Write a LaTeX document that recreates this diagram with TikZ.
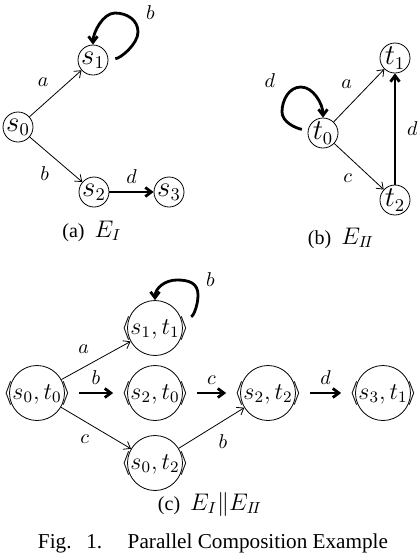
\documentclass[tikz,border=0pt]{standalone}
\usepackage[no-math]{fontspec}
\setmainfont{Liberation Serif}
\usetikzlibrary{arrows.meta,calc}

% pair state: circle of fixed size, text allowed to overflow
\newcommand\tup[2]{\makebox[0pt]{$\langle #1,#2\rangle$}}

\begin{document}
\begin{tikzpicture}[x=0.5pt,y=-0.5pt,
  state/.style={circle, draw, inner sep=0pt, minimum size=15pt, font=\fontsize{13.5}{16}\selectfont},
  pair/.style={circle, draw, inner sep=0pt, minimum size=27.5pt, font=\large},
  trans/.style={-{Straight Barb[length=3pt,width=4.5pt]}, thin},
  heavy/.style={-{Straight Barb[length=3pt,width=4.5pt]}, line width=1.4pt},
  captext/.style={font=\normalsize}
]
\useasboundingbox (0,0) rectangle (418,554);

% (a) E_I
\node[state] (s0) at (18,127) {$s_0$};
\node[state] (s1) at (93,60) {$s_1$};
\node[state] (s2) at (94,192) {$s_2$};
\node[state] (s3) at (169,192) {$s_3$};
\draw[trans] (s0) -- node[above left] {$a$} (s1);
\draw[trans] (s0) -- node[below left] {$b$} (s2);
\draw[heavy] (s2) -- node[above] {$d$} (s3);
\draw[heavy, shorten <=3.5pt] (s1.5) .. controls +(12,0) and +(0,12) .. ($(s1)+(45,-28)$)
  node[above right, yshift=2pt] {$b$}
  .. controls +(0,-12) and +(12,0) .. ($(s1)+(22,-47)$)
  .. controls +(-12,0) and +(0,-12) .. (s1.north);
\node[captext] (capa) at (92,231) {(a)~~{\large$E_I$}};

% (b) E_II
\node[state] (t0) at (323,133) {$t_0$};
\node[state] (t1) at (395,58) {$t_1$};
\node[state] (t2) at (395,200) {$t_2$};
\draw[trans] (t0) -- node[above left] {$a$} (t1);
\draw[trans] (t0) -- node[below left] {$c$} (t2);
\draw[heavy] (t2) -- node[right=2pt] {$d$} (t1);
\draw[heavy, shorten <=3pt] (t0.170) .. controls +(-12,-2) and +(0,10) .. ($(t0)+(-41,-21)$)
  .. controls +(0,-12) and +(-12,0) .. ($(t0)+(-22,-46)$)
  node[left=9pt, yshift=3pt] {$d$}
  .. controls +(12,0) and +(0,-14) .. (t0.north);
\node[captext] (capb) at (341,238) {(b)~~{\large$E_{I\!I}$}};

% (c) E_I || E_II
\node[pair] (p00) at (37,393) {\tup{s_0}{t_0}};
\node[pair] (p11) at (155,328) {\tup{s_1}{t_1}};
\node[pair] (p20) at (155,393) {\tup{s_2}{t_0}};
\node[pair] (p22) at (268,393) {\tup{s_2}{t_2}};
\node[pair] (p31) at (383,393) {\tup{s_3}{t_1}};
\node[pair] (p02) at (155,463) {\tup{s_0}{t_2}};
\draw[trans] (p00) -- node[above left] {$a$} (p11);
\draw[trans] (p00) -- node[below left] {$c$} (p02);
\draw[trans] (p02) -- node[below right] {$b$} (p22);
\draw[heavy, shorten <=7pt, shorten >=7pt] (p00) -- node[above] {$b$} (p20);
\draw[heavy, shorten <=7pt, shorten >=7pt] (p20) -- node[above] {$c$} (p22);
\draw[heavy, shorten <=7pt, shorten >=7pt] (p22) -- node[above] {$d$} (p31);
\draw[heavy, shorten <=5pt] (p11.17) .. controls +(12,-4) and +(0,10) .. ($(p11)+(43,-33)$)
  node[above right] {$b$}
  .. controls +(0,-12) and +(12,0) .. ($(p11)+(22,-48)$)
  .. controls +(-12,0) and +(0,-12) .. (p11.north);
\node[captext] (capc) at (210,504) {(c)~~{\large$E_I\|E_{I\!I}$}};

\node[font=\fontsize{10.6}{12}\selectfont] (fig) at (213,543)
  {Fig.\hspace{0.7em}1.\hspace{1.2em}Parallel Composition Example};
\end{tikzpicture}
\end{document}
